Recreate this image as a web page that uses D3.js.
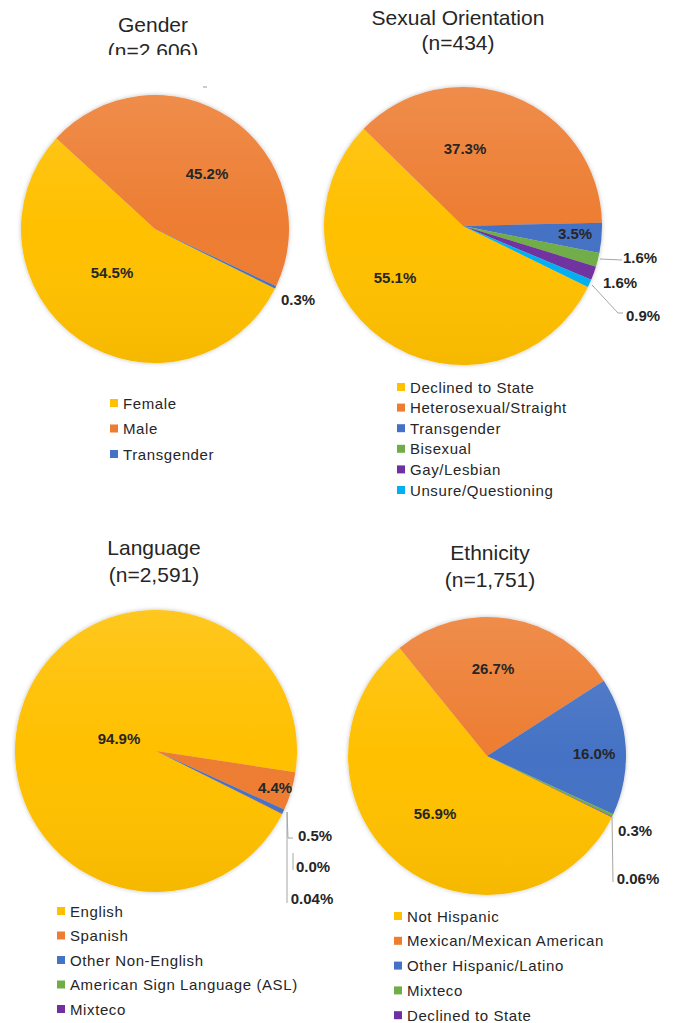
<!DOCTYPE html>
<html>
<head>
<meta charset="utf-8">
<script src="https://cdn.jsdelivr.net/npm/d3@7"></script>
<style>
  body { margin: 0; background: #fff; }
  svg { display: block; font-family: "Liberation Sans", Arial, sans-serif; }
</style>
</head>
<body>
<svg id="chart" width="678" height="1023"></svg>
<script>
// values
var genderCats = ["Female", "Male", "Transgender"];
var genderVals = [54.5, 45.2, 0.3];

var orientCats = ["Declined to State", "Heterosexual/Straight", "Transgender", "Bisexual", "Gay/Lesbian", "Unsure/Questioning"];
var orientVals = [55.1, 37.3, 3.5, 1.6, 1.6, 0.9];

var langCats = ["English", "Spanish", "Other Non-English", "American Sign Language (ASL)", "Mixteco"];
var langVals = [94.9, 4.4, 0.5, 0.0, 0.04];

var ethCats = ["Not Hispanic", "Mexican/Mexican American", "Other Hispanic/Latino", "Mixteco", "Declined to State"];
var ethVals = [56.9, 26.7, 16.0, 0.3, 0.06];

var titles = [
    ["Gender", "(n=2.606)"],
    ["Sexual Orientation", "(n=434)"],
    ["Language", "(n=2,591)"],
    ["Ethnicity", "(n=1,751)"]
];

var palette = ["#FFC000", "#ED7D31", "#4472C4", "#70AD47", "#7030A0", "#00B0F0"];

// layout: where each pie sits and where its labels go (offsets from centre)
var charts = [
    { cats: genderCats, vals: genderVals, title: titles[0], cx: 155, cy: 229, r: 134, start: 116.4,
      tx: 153, ty: [32, 58], clip: 55,
      lab: [[-43, 43], [52, -56], [143, 70]],
      leaders: [null, null, null],
      lx: 110, ly: 403, ls: 25.5 },
    { cats: orientCats, vals: orientVals, title: titles[1], cx: 463, cy: 226, r: 139, start: 116,
      tx: 458, ty: [25, 50],
      lab: [[-68, 51], [2, -78], [112, 7], [177, 31], [157, 56], [180, 89]],
      leaders: [null, null, null, [[137, 33], [159, 34]], null, [[129, 59], [155, 87], [160, 87]]],
      lx: 397, ly: 387, ls: 20.6 },
    { cats: langCats, vals: langVals, title: titles[2], cx: 156, cy: 751, r: 141, start: 116.5,
      tx: 154, ty: [555, 582],
      lab: [[-37, -13], [119, 36], [159, 84], [157, 115], [156, 147]],
      leaders: [null, null, [[131, 61], [132, 87], [137, 87]], [[137, 102], [137, 119]], [[131, 61], [131, 152]]],
      lx: 57, ly: 911, ls: 24.5 },
    { cats: ethCats, vals: ethVals, title: titles[3], cx: 487, cy: 756, r: 139, start: 116.1,
      tx: 490, ty: [560, 587],
      lab: [[-52, 57], [6, -88], [107, -3], [148, 74], [151, 122]],
      leaders: [null, null, null, null, [[125, 61], [126, 126]]],
      lx: 394, ly: 916, ls: 24.8 }
];

var svg = d3.select("#chart");
var color = d3.scaleOrdinal().domain(d3.range(6)).range(palette);

var defs = svg.append("defs");
var shade = defs.append("linearGradient")
    .attr("id", "shade").attr("x1", 0).attr("y1", 0).attr("x2", 0).attr("y2", 1);
shade.append("stop").attr("offset", "0%").attr("stop-color", "#fff").attr("stop-opacity", 0.12);
shade.append("stop").attr("offset", "50%").attr("stop-color", "#fff").attr("stop-opacity", 0);
shade.append("stop").attr("offset", "100%").attr("stop-color", "#000").attr("stop-opacity", 0.04);

var blur = defs.append("filter").attr("id", "soft")
    .attr("x", "-10%").attr("y", "-10%").attr("width", "120%").attr("height", "120%");
blur.append("feDropShadow").attr("dx", 0).attr("dy", 0).attr("stdDeviation", 2)
    .attr("flood-color", "#000").attr("flood-opacity", 0.25);

defs.append("clipPath").attr("id", "titleclip")
    .append("rect").attr("x", 0).attr("y", 0).attr("width", 340).attr("height", charts[0].clip);

function fmt(v) {
    if (v === 0) return "0.0%";
    if (v < 0.1) return v.toFixed(2) + "%";
    return v.toFixed(1) + "%";
}

charts.forEach(function (c, ci) {
    var a0 = c.start * Math.PI / 180;
    var pie = d3.pie().sort(null).value(function (d) { return d; })
        .startAngle(a0).endAngle(a0 + 2 * Math.PI);
    var arc = d3.arc().innerRadius(0).outerRadius(c.r);

    // title
    var t = svg.append("g");
    if (c.clip) t.attr("clip-path", "url(#titleclip)");
    c.title.forEach(function (line, i) {
        t.append("text")
            .attr("x", c.tx).attr("y", c.ty[i])
            .attr("text-anchor", "middle")
            .attr("font-size", 21)
            .attr("fill", "#262626")
            .text(line);
    });

    var g = svg.append("g").attr("transform", "translate(" + c.cx + "," + c.cy + ")");
    var slices = g.append("g").attr("filter", "url(#soft)");
    slices.selectAll("path")
        .data(pie(c.vals))
        .enter().append("path")
        .attr("d", arc)
        .attr("fill", function (d, i) { return color(i); });
    g.append("circle").attr("r", c.r).attr("fill", "url(#shade)");

    // leader lines
    c.leaders.forEach(function (pts) {
        if (!pts) return;
        g.append("path")
            .attr("d", d3.line()(pts))
            .attr("fill", "none")
            .attr("stroke", "#a6a6a6")
            .attr("stroke-width", 1);
    });

    // data labels
    g.selectAll("text.lab")
        .data(c.vals)
        .enter().append("text")
        .attr("class", "lab")
        .attr("x", function (d, i) { return c.lab[i][0]; })
        .attr("y", function (d, i) { return c.lab[i][1]; })
        .attr("text-anchor", "middle")
        .attr("dominant-baseline", "central")
        .attr("font-size", 15)
        .attr("font-weight", "bold")
        .attr("fill", "#262626")
        .text(fmt);

    // legend
    var leg = svg.append("g");
    var row = leg.selectAll("g")
        .data(c.cats)
        .enter().append("g")
        .attr("transform", function (d, i) {
            return "translate(" + c.lx + "," + (c.ly + i * c.ls) + ")";
        });
    row.append("rect")
        .attr("x", 0).attr("y", -4).attr("width", 8).attr("height", 8)
        .attr("fill", function (d, i) { return color(i); });
    row.append("text")
        .attr("x", 13).attr("y", 0)
        .attr("dominant-baseline", "central")
        .attr("font-size", 15)
        .attr("letter-spacing", 0.6)
        .attr("fill", "#262626")
        .text(function (d) { return d; });
});

// stray mark above the gender pie
svg.append("line").attr("x1", 203).attr("x2", 207).attr("y1", 87).attr("y2", 87)
    .attr("stroke", "#999").attr("stroke-width", 1);
</script>
</body>
</html>
